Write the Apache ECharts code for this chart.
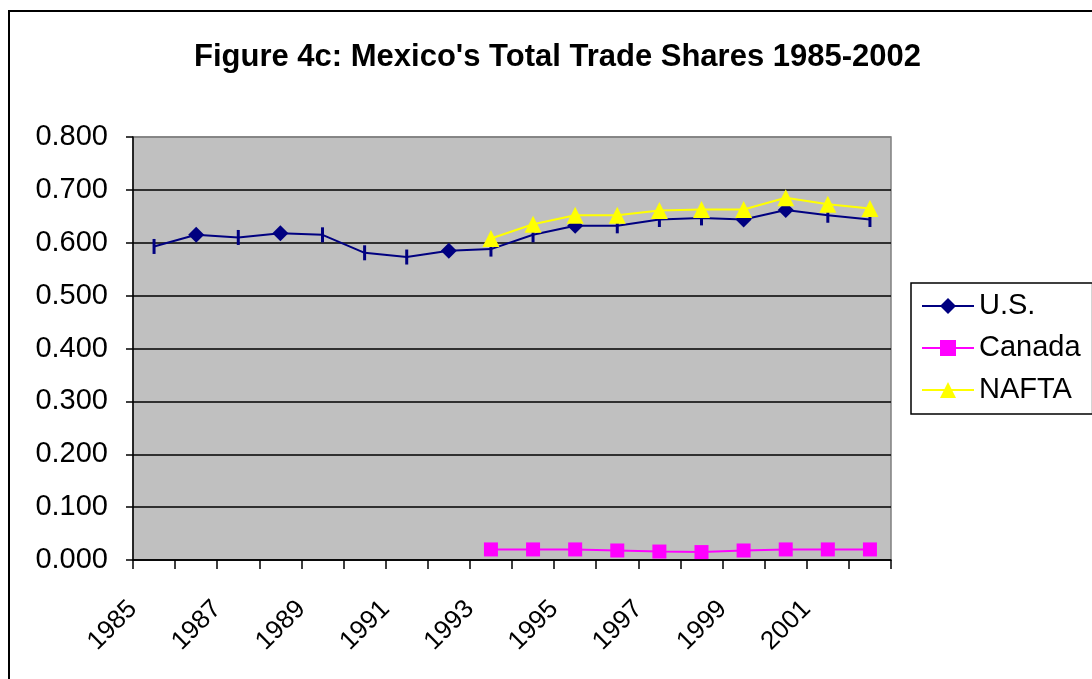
<!DOCTYPE html>
<html>
<head>
<meta charset="utf-8">
<script src="https://cdn.jsdelivr.net/npm/echarts@6/dist/echarts.min.js"></script>
<style>
html,body{margin:0;padding:0;background:#fff;}
#chart{width:1092px;height:679px;}
</style>
</head>
<body>
<div id="chart"></div>
<script>
// data
var years = ['1985','1986','1987','1988','1989','1990','1991','1992','1993',
             '1994','1995','1996','1997','1998','1999','2000','2001','2002'];
var usShare = [0.593,0.615,0.610,0.618,0.615,0.581,0.573,0.585,0.588,
               0.615,0.632,0.632,0.644,0.647,0.644,0.662,0.652,0.644];
var canadaShare = [null,null,null,null,null,null,null,null,0.020,
                   0.020,0.020,0.018,0.016,0.015,0.018,0.020,0.020,0.020];
var naftaShare = [null,null,null,null,null,null,null,null,0.608,
                  0.635,0.652,0.652,0.661,0.663,0.663,0.685,0.673,0.665];
var seriesNames = ['U.S.','Canada','NAFTA'];

// the U.S. line only shows a diamond on these years, a dash elsewhere
var usDiamondYears = ['1986','1988','1992','1995','1999','2000'];

var font = 'Liberation Sans, Arial, sans-serif';

var usData = usShare.map(function(v,i){
	if(usDiamondYears.indexOf(years[i])>=0) return {value:v};
	return {value:v, symbol:'rect', symbolSize:[3,15]};
});

// labels sit on the tick marks, so a second axis without boundary gap carries them
var labelYears = years.concat(['']);

var chart = echarts.init(document.getElementById('chart'));

var option = {
	backgroundColor:'#fff',
	animation:false,
	title:{
		text:"Figure 4c: Mexico's Total Trade Shares 1985-2002",
		left:189, top:37,
		textStyle:{fontFamily:font, fontSize:31, fontWeight:'bold', color:'#000'}
	},
	graphic:[{
		type:'rect', z:-1,
		shape:{x:9, y:11, width:1200, height:1000},
		style:{fill:'none', stroke:'#000', lineWidth:2}
	}],
	legend:{
		data:seriesNames,
		orient:'vertical',
		left:911, top:283,
		padding:[8,12,9,10],
		itemGap:12,
		itemWidth:52, itemHeight:20,
		borderColor:'#000', borderWidth:1.5,
		backgroundColor:'#fff',
		textStyle:{fontFamily:font, fontSize:29, color:'#000', lineHeight:30}
	},
	grid:{
		left:133, top:137, width:758, height:423,
		show:true, backgroundColor:'#C0C0C0',
		borderColor:'#808080', borderWidth:1.5
	},
	xAxis:[{
		type:'category',
		data:years,
		boundaryGap:true,
		axisLine:{lineStyle:{color:'#000', width:1.5}},
		axisTick:{show:true, interval:0, length:9, lineStyle:{color:'#000', width:1.5}},
		axisLabel:{show:false},
		splitLine:{show:false}
	},{
		type:'category',
		data:labelYears,
		boundaryGap:false,
		position:'bottom',
		axisLine:{show:false},
		axisTick:{show:false},
		axisLabel:{interval:1, rotate:45, margin:45,
			fontFamily:font, fontSize:26, color:'#000'},
		splitLine:{show:false}
	}],
	yAxis:{
		type:'value',
		min:0, max:0.8, interval:0.1,
		axisLine:{show:true, lineStyle:{color:'#000', width:1.5}},
		axisTick:{show:true, length:7, lineStyle:{color:'#000', width:1.5}},
		axisLabel:{margin:25, fontFamily:font, fontSize:29, color:'#000',
			formatter:function(v){return v.toFixed(3);}},
		splitLine:{show:true, lineStyle:{width:1.5,
			color:['#000','#000','#000','#000','#000','#000','#000','#000','#808080']}}
	},
	series:[{
		name:seriesNames[0], type:'line', xAxisIndex:0,
		data:usData,
		symbol:'diamond', symbolSize:16,
		itemStyle:{color:'#000080'},
		lineStyle:{color:'#000080', width:2}
	},{
		name:seriesNames[1], type:'line', xAxisIndex:0,
		data:canadaShare,
		symbol:'rect', symbolSize:14,
		itemStyle:{color:'#FF00FF'},
		lineStyle:{color:'#FF00FF', width:2}
	},{
		name:seriesNames[2], type:'line', xAxisIndex:0,
		data:naftaShare,
		symbol:'triangle', symbolSize:17,
		itemStyle:{color:'#FFFF00'},
		lineStyle:{color:'#FFFF00', width:2}
	}]
};

chart.setOption(option);
</script>
</body>
</html>
